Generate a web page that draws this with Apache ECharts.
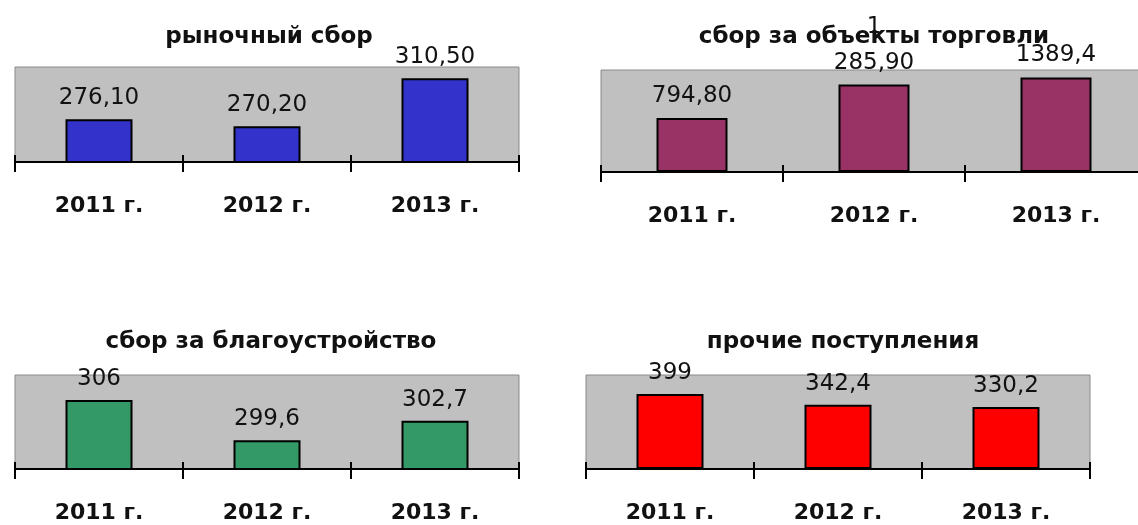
<!DOCTYPE html>
<html>
<head>
    <meta charset="utf-8"/>
    <title>ECharts</title>
    <script type="text/javascript" src="https://cdn.jsdelivr.net/npm/echarts@6/dist/echarts.min.js"></script>
    <style>
        html, body { margin: 0; padding: 0; background: #fff; }
        #main { width: 1138px; height: 525px; }
    </style>
</head>
<body>
<div id="main"></div>

<script type="text/javascript">
    // данные
    var years = ['2011 г.', '2012 г.', '2013 г.'];
    var titles = ['рыночный сбор', 'сбор за объекты торговли', 'сбор за благоустройство', 'прочие поступления'];

    var marketFee = [276.1, 270.2, 310.5];
    var tradeFee = [794.8, 1285.9, 1389.4];
    var improvementFee = [306, 299.6, 302.7];
    var otherIncome = [399, 342.4, 330.2];

    // подписи над столбцами как на картинке
    var marketLabels = ['276,10', '270,20', '310,50'];
    var tradeLabels = ['794,80', '1\n285,90', '1389,4'];
    var improvementLabels = ['306', '299,6', '302,7'];
    var otherLabels = ['399', '342,4', '330,2'];

    var font = 'DejaVu Sans';

    var charts = [
        {values: marketFee, labels: marketLabels, color: '#3333cc', min: 240, max: 320,
            grid: {left: 15, top: 67, width: 504, height: 95}, titleX: 264, titleY: 21, barWidth: 67, lineHeight: 22, dist: 10},
        {values: tradeFee, labels: tradeLabels, color: '#993366', min: 0, max: 1500,
            grid: {left: 601, top: 70, width: 546, height: 102}, titleX: 869, titleY: 21, barWidth: 71, lineHeight: 36, dist: 4},
        {values: improvementFee, labels: improvementLabels, color: '#339966', min: 295, max: 310,
            grid: {left: 15, top: 375, width: 504, height: 94}, titleX: 266, titleY: 326, barWidth: 67, lineHeight: 22, dist: 10},
        {values: otherIncome, labels: otherLabels, color: '#ff0000', min: 0, max: 500,
            grid: {left: 586, top: 375, width: 504, height: 94}, titleX: 838, titleY: 326, barWidth: 67, lineHeight: 22, dist: 10}
    ];

    var myChart = echarts.init(document.getElementById('main'));

    var option = {
        animation: false,
        backgroundColor: '#fff',
        title: [],
        grid: [],
        xAxis: [],
        yAxis: [],
        series: []
    };

    charts.forEach(function (c, i) {
        option.title.push({
            text: titles[i],
            left: c.titleX,
            top: c.titleY,
            textAlign: 'center',
            textStyle: {fontFamily: font, fontSize: 23, fontWeight: 'bold', color: '#111'}
        });
        option.grid.push({
            left: c.grid.left, top: c.grid.top, width: c.grid.width, height: c.grid.height,
            show: true,
            backgroundColor: '#c0c0c0',
            borderColor: '#8a8a8a',
            borderWidth: 1,
            containLabel: false,
            outerBoundsMode: 'none'
        });
        // основная ось с подписями, засечки вниз
        option.xAxis.push({
            type: 'category',
            gridIndex: i,
            position: 'bottom',
            data: years,
            axisLine: {show: true, lineStyle: {color: '#000', width: 2}},
            axisTick: {show: true, inside: false, length: 10, lineStyle: {color: '#000', width: 2}},
            axisLabel: {margin: 33, fontFamily: font, fontSize: 22, fontWeight: 'bold', color: '#111'},
            splitLine: {show: false}
        });
        // вторая ось - только засечки вверх
        option.xAxis.push({
            type: 'category',
            gridIndex: i,
            position: 'bottom',
            data: years,
            axisLine: {show: false},
            axisTick: {show: true, inside: true, length: 7, lineStyle: {color: '#000', width: 2}},
            axisLabel: {show: false},
            splitLine: {show: false}
        });
        option.yAxis.push({
            type: 'value',
            gridIndex: i,
            min: c.min,
            max: c.max,
            show: false,
            splitLine: {show: false}
        });
        option.series.push({
            type: 'bar',
            xAxisIndex: i * 2,
            yAxisIndex: i,
            barWidth: c.barWidth,
            data: c.values,
            itemStyle: {color: c.color, borderColor: '#000', borderWidth: 2},
            label: {
                show: true,
                position: 'top',
                distance: c.dist,
                lineHeight: c.lineHeight,
                fontFamily: font,
                fontSize: 23,
                color: '#111',
                formatter: function (p) {
                    return c.labels[p.dataIndex];
                }
            }
        });
    });

    myChart.setOption(option);
</script>
</body>
</html>
